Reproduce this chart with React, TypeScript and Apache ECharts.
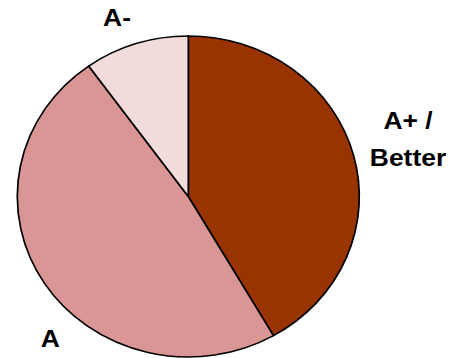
import React, { useEffect, useRef } from "react";
import * as echarts from "echarts";

const categories = ["A+ / Better", "A", "A-"];
const values = [41.7, 48.4, 9.9];
const colors = ["#993300", "#D99694", "#F2DCDB"];

const STRETCH = 1.0654; // horizontal stretch of the whole picture
const W = 452;
const H = 358;

export default function App() {
  const ref = useRef<HTMLDivElement>(null);
  useEffect(() => {
    if (!ref.current) return;
    const chart = echarts.init(ref.current, undefined, { renderer: "svg" });
    const ix = (x: number) => x / STRETCH;
    const font = {
      fontFamily: "'Liberation Sans', Arial, sans-serif",
      fontWeight: "bold" as const,
      fontSize: 23,
      fill: "#000",
    };
    chart.setOption({
      animation: false,
      series: [
        {
          type: "pie",
          center: [ix(188.3), 196.5],
          radius: 160.5,
          startAngle: 90,
          clockwise: true,
          label: { show: false },
          labelLine: { show: false },
          emphasis: { disabled: true },
          itemStyle: { borderColor: "#000", borderWidth: 1.6 },
          data: categories.map((name, i) => ({
            name,
            value: values[i],
            itemStyle: { color: colors[i] },
          })),
        },
      ],
      graphic: [
        {
          type: "text",
          x: ix(117),
          y: 18,
          scaleX: 1.08,
          style: { ...font, text: "A-", align: "center", verticalAlign: "middle" },
        },
        {
          type: "text",
          x: ix(408),
          y: 139.7,
          scaleX: 1.08,
          style: {
            ...font,
            text: "A+ /\nBetter",
            lineHeight: 37,
            align: "center",
            verticalAlign: "middle",
          },
        },
        {
          type: "text",
          x: ix(50.3),
          y: 339,
          scaleX: 1.08,
          style: { ...font, text: "A", align: "center", verticalAlign: "middle" },
        },
      ],
    });
    return () => chart.dispose();
  }, []);
  return (
    <div
      style={{
        position: "absolute",
        left: 0,
        top: 0,
        width: W,
        height: H,
        overflow: "hidden",
        background: "#fff",
      }}
    >
      <div
        ref={ref}
        style={{
          width: W / STRETCH,
          height: H,
          transform: `scaleX(${STRETCH})`,
          transformOrigin: "0 0",
        }}
      />
    </div>
  );
}
